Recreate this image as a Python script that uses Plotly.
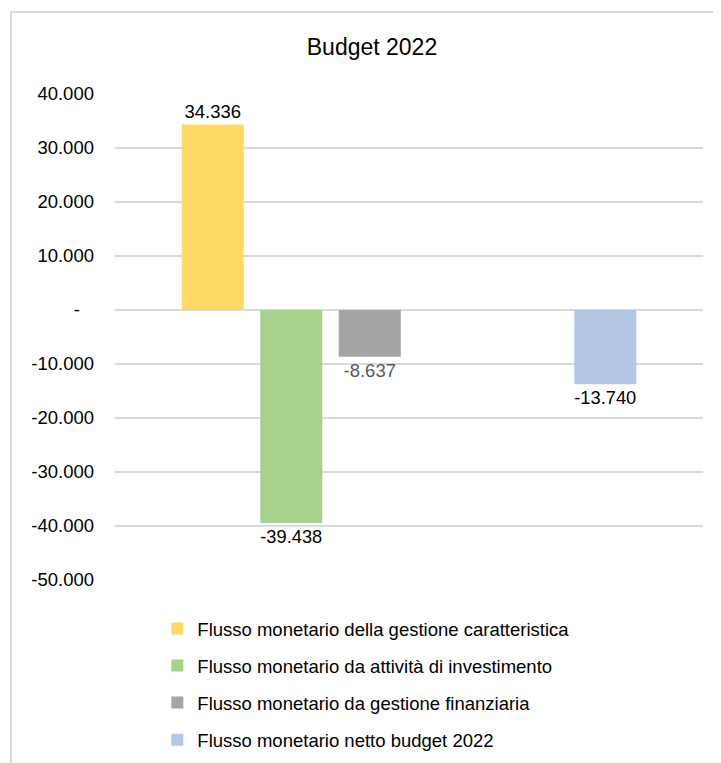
import plotly.graph_objects as go

# ---- data ----
category = ["Budget 2022"]
series_names = [
    "Flusso monetario della gestione caratteristica",
    "Flusso monetario da attività di investimento",
    "Flusso monetario da gestione finanziaria",
    None,  # empty slot
    None,  # empty slot
    "Flusso monetario netto budget 2022",
]
series_values = [34336, -39438, -8637, None, None, -13740]
series_labels = ["34.336", "-39.438", "-8.637", "", "", "-13.740"]
series_colors = ["#FFD966", "#A9D18E", "#A5A5A5", "#FFFFFF", "#FFFFFF", "#B4C7E7"]
label_colors = ["#000000", "#000000", "#595959", "#000000", "#000000", "#000000"]

tick_vals = [40000, 30000, 20000, 10000, 0, -10000, -20000, -30000, -40000, -50000]
tick_text = ["40.000", "30.000", "20.000", "10.000", "-\u00a0\u00a0\u2009",
             "-10.000", "-20.000", "-30.000", "-40.000", "-50.000"]

FONT = "Liberation Sans, Arial, Helvetica, sans-serif"

fig = go.Figure()
for i, (name, val, lab, col, lcol) in enumerate(
        zip(series_names, series_values, series_labels, series_colors, label_colors)):
    fig.add_trace(go.Bar(
        x=category,
        y=[val],
        name=name or "",
        showlegend=name is not None,
        legendgroup=f"g{i}",
        marker=dict(color=col, line=dict(width=0)),
        text=[lab],
        textposition="outside",
        textfont=dict(size=18.5, color=lcol, family=FONT),
        cliponaxis=False,
        hoverinfo="skip" if name is None else None,
    ))

# page body has an 8px margin, so the figure is 8px smaller than the window
fig.update_layout(
    width=713,
    height=755,
    paper_bgcolor="white",
    plot_bgcolor="white",
    barmode="group",
    bargap=0.199,
    bargroupgap=0.21,
    margin=dict(l=107, r=18, t=86, b=183, autoexpand=False),
    font=dict(family=FONT, size=18.5, color="#000000"),
    title=dict(text="Budget 2022", x=0.5105, xanchor="center", y=0.9483, yanchor="middle",
               font=dict(size=23, family=FONT, color="#000000")),
    xaxis=dict(range=[-0.5, 0.5], showticklabels=False, showgrid=False,
               zeroline=False, showline=False),
    yaxis=dict(range=[-50000, 40000], tickvals=tick_vals, ticktext=tick_text,
               showgrid=True, gridcolor="#D9D9D9", gridwidth=1.5,
               zeroline=False, showline=False, ticklabelstandoff=20,
               tickfont=dict(size=18.5, family=FONT, color="#000000")),
    legend=dict(orientation="v", x=0.072, xanchor="left", y=-0.0617, yanchor="top",
                traceorder="grouped", tracegroupgap=10,
                font=dict(size=18.5, family=FONT, color="#000000")),
    shapes=[dict(type="rect", xref="paper", yref="paper",
                 x0=-0.1769, x1=1.2, y0=-0.6, y1=1.1687,
                 line=dict(color="#D9D9D9", width=2), fillcolor="rgba(0,0,0,0)",
                 layer="below")],
)

fig.write_html("out.html")
